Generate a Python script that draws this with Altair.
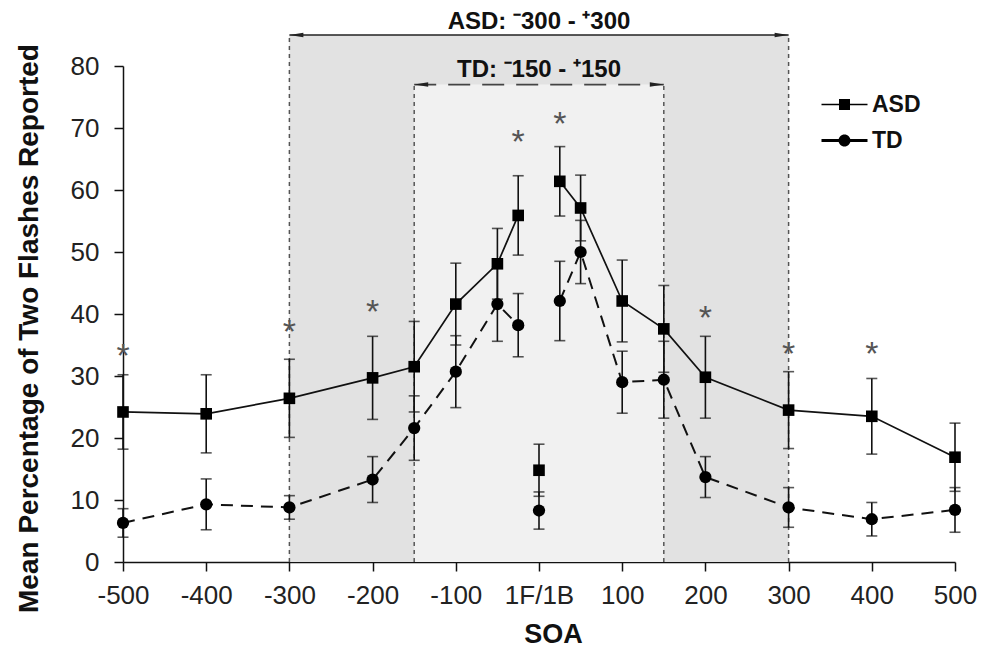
import altair as alt
import pandas as pd

# ---------------- data ----------------
soa = [-500, -400, -300, -200, -150, -100, -50, -25, 0, 25, 50, 100, 150, 200, 300, 400, 500]
asd = [24.2, 23.9, 26.4, 29.7, 31.5, 41.6, 48.1, 55.9, 14.8, 61.4, 57.1, 42.1, 37.6, 29.8, 24.5, 23.5, 16.9]
asd_err = [6.0, 6.3, 6.3, 6.7, 7.3, 6.6, 5.7, 6.4, 4.2, 5.6, 5.3, 6.6, 7.0, 6.6, 6.2, 6.1, 5.5]
td = [6.3, 9.3, 8.8, 13.3, 21.6, 30.7, 41.6, 38.2, 8.3, 42.1, 50.0, 29.0, 29.4, 13.7, 8.8, 6.9, 8.4]
td_err = [2.3, 4.1, 1.9, 3.7, 5.2, 5.8, 6.0, 5.1, 3.0, 6.4, 5.1, 5.0, 6.2, 3.3, 3.2, 2.7, 3.6]

star_x = [-500, -300, -200, -25, 25, 200, 300, 400]
star_y = [34.7, 38.5, 41.7, 69.2, 72.1, 40.8, 35.0, 35.0]

x_ticks = [-500, -400, -300, -200, -100, 0, 100, 200, 300, 400, 500]
y_ticks = [0, 10, 20, 30, 40, 50, 60, 70, 80]

region_names = ["ASD", "TD"]
region_lo = [-300, -150]
region_hi = [300, 150]
region_top = [85, 77]
region_fill = ["#e2e2e2", "#f1f1f1"]
region_label = ["ASD: \u207b300 - \u207a300", "TD: \u207b150 - \u207a150"]

groups = ["ASD", "TD"]

# ---------------- frames ----------------
rows = []
for g, vals, errs in (("ASD", asd, asd_err), ("TD", td, td_err)):
    for s, v, e in zip(soa, vals, errs):
        seg = "L" if s < 0 else ("C" if s == 0 else "R")
        rows.append({"soa": s, "val": v, "lo": v - e, "hi": v + e, "group": g, "seg": seg})
df = pd.DataFrame(rows)

reg = pd.DataFrame({"name": region_names, "lo": region_lo, "hi": region_hi,
                    "top": region_top, "fill": region_fill, "label": region_label,
                    "zero": [0, 0]})
edges = pd.DataFrame({"name": region_names * 2, "x": region_lo + region_hi,
                      "top": region_top * 2, "side": ["L", "L", "R", "R"],
                      "zero": [0, 0, 0, 0]})
stars = pd.DataFrame({"x": star_x, "y": star_y})

FONT = "Liberation Sans"

xscale = alt.Scale(domain=[-500, 500], nice=False, zero=False)
yscale = alt.Scale(domain=[0, 80], nice=False)

xaxis = alt.Axis(values=x_ticks, labelExpr="datum.value == 0 ? '1F/1B' : datum.value",
                 title="SOA", titleFontSize=27, titleFont=FONT, titleFontWeight="bold",
                 titleColor="#111", titlePadding=13, titleX=430,
                 labelFont=FONT, labelFontSize=26, labelColor="#222", labelPadding=11,
                 tickSize=9, tickColor="#111", tickWidth=1.5, domainColor="#111",
                 domainWidth=1.5, grid=False, labelFlush=False, labelOverlap=False)
yaxis = alt.Axis(values=y_ticks, title="Mean Percentage of Two Flashes Reported",
                 titleFontSize=28, titleFont=FONT, titleFontWeight="bold", titleColor="#111",
                 titleX=-80, titleY=262, titleBaseline="bottom", titleAngle=270,
                 labelFont=FONT, labelFontSize=26, labelColor="#222",
                 labelPadding=15, tickSize=9, tickColor="#111", tickWidth=1.5,
                 domainColor="#111", domainWidth=1.5, grid=False)

base = alt.Chart(df)

# shaded regions
rect_asd = alt.Chart(reg).transform_filter("datum.name == 'ASD'").mark_rect(
    color=region_fill[0]).encode(
    x=alt.X("lo:Q", scale=xscale, axis=xaxis), x2="hi:Q",
    y=alt.Y("zero:Q", scale=yscale, axis=yaxis), y2="top:Q")
rect_td = alt.Chart(reg).transform_filter("datum.name == 'TD'").mark_rect(
    color=region_fill[1]).encode(x="lo:Q", x2="hi:Q", y="zero:Q", y2="top:Q")

vlines = alt.Chart(edges).mark_rule(color="#555", strokeDash=[4, 4], strokeWidth=1.5).encode(
    x="x:Q", y="zero:Q", y2="top:Q")

asd_range = alt.Chart(reg).transform_filter("datum.name == 'ASD'").mark_rule(
    color="#222", strokeWidth=1.6).encode(x="lo:Q", x2="hi:Q", y="top:Q")
td_range = alt.Chart(reg).transform_filter("datum.name == 'TD'").mark_rule(
    color="#444", strokeWidth=1.6, strokeDash=[22, 12]).encode(x="lo:Q", x2="hi:Q", y="top:Q")

arrow_left = "M-1,0L1,-0.32L1,0.32Z"
arrow_right = "M1,0L-1,-0.32L-1,0.32Z"
heads_l = alt.Chart(edges).transform_filter("datum.side == 'L'").mark_point(
    shape=arrow_left, filled=True, color="#222", size=196, opacity=1, xOffset=7).encode(
    x="x:Q", y="top:Q")
heads_r = alt.Chart(edges).transform_filter("datum.side == 'R'").mark_point(
    shape=arrow_right, filled=True, color="#222", size=196, opacity=1, xOffset=-7).encode(
    x="x:Q", y="top:Q")

range_text_asd = alt.Chart(reg).transform_filter("datum.name == 'ASD'").mark_text(
    font=FONT, fontSize=24, fontWeight="bold", color="#111", baseline="bottom", dy=-1).encode(
    x="zero:Q", y="top:Q", text="label:N")
range_text_td = alt.Chart(reg).transform_filter("datum.name == 'TD'").mark_text(
    font=FONT, fontSize=24, fontWeight="bold", color="#111", baseline="bottom", dy=-3).encode(
    x="zero:Q", y="top:Q", text="label:N")

# error bars
err_rule = base.mark_rule(color="#111", strokeWidth=1.6).encode(x="soa:Q", y="lo:Q", y2="hi:Q")
cap_lo = base.mark_tick(color="#111", orient="horizontal", size=11, thickness=1.6).encode(
    x="soa:Q", y="lo:Q")
cap_hi = base.mark_tick(color="#111", orient="horizontal", size=11, thickness=1.6).encode(
    x="soa:Q", y="hi:Q")

line_asd = base.transform_filter("datum.group == 'ASD' && datum.seg != 'C'").mark_line(
    color="#111", strokeWidth=1.7).encode(x="soa:Q", y="val:Q", detail="seg:N")
line_td = base.transform_filter("datum.group == 'TD' && datum.seg != 'C'").mark_line(
    color="#111", strokeWidth=2.0, strokeDash=[12, 8]).encode(x="soa:Q", y="val:Q", detail="seg:N")

pts_asd = base.transform_filter("datum.group == 'ASD'").mark_point(
    shape="square", filled=True, color="#000", size=135, opacity=1).encode(x="soa:Q", y="val:Q")
pts_td = base.transform_filter("datum.group == 'TD'").mark_point(
    shape="circle", filled=True, color="#000", size=150, opacity=1).encode(x="soa:Q", y="val:Q")

star_marks = alt.Chart(stars).mark_text(
    text="*", font=FONT, fontSize=34, color="#555", baseline="alphabetic", dy=20).encode(
    x="x:Q", y="y:Q")

# legend (real legend, custom filled symbols: line as thin bar + marker)
sym_asd = ("M-2.3,-0.08H2.3V0.08H-2.3Z"
           "M-0.55,-0.55H0.55V0.55H-0.55Z")
sym_td = ("M-2.3,-0.14H2.3V0.14H-2.3Z"
          "M0.6,0A0.6,0.6 0 1,1 -0.6,0A0.6,0.6 0 1,1 0.6,0Z")
legend_layer = base.transform_filter("datum.soa == -500").mark_point(
    filled=True, color="#000", opacity=0).encode(
    x="soa:Q", y="val:Q",
    shape=alt.Shape("group:N",
                    scale=alt.Scale(domain=groups, range=[sym_asd, sym_td]),
                    legend=alt.Legend(title=None, orient="none", legendX=710, legendY=27,
                                      symbolSize=400, symbolOpacity=1,
                                      symbolFillColor="#000", symbolStrokeWidth=0,
                                      labelFont=FONT, labelFontSize=23,
                                      labelFontWeight="bold", labelColor="#111",
                                      labelOffset=16, rowPadding=12, padding=0)))

chart = alt.layer(
    rect_asd, rect_td, vlines, asd_range, td_range, heads_l, heads_r, range_text_asd,
    range_text_td, err_rule, cap_lo, cap_hi, line_asd, line_td, pts_asd, pts_td,
    star_marks, legend_layer
).properties(
    width=832, height=496,
    autosize=alt.AutoSizeParams(type="none"),
    padding={"left": 115, "top": 58, "right": 28, "bottom": 86},
    background="white"
).configure_view(stroke=None)

chart.save("out.html", embed_options={"renderer": "svg", "actions": False})
